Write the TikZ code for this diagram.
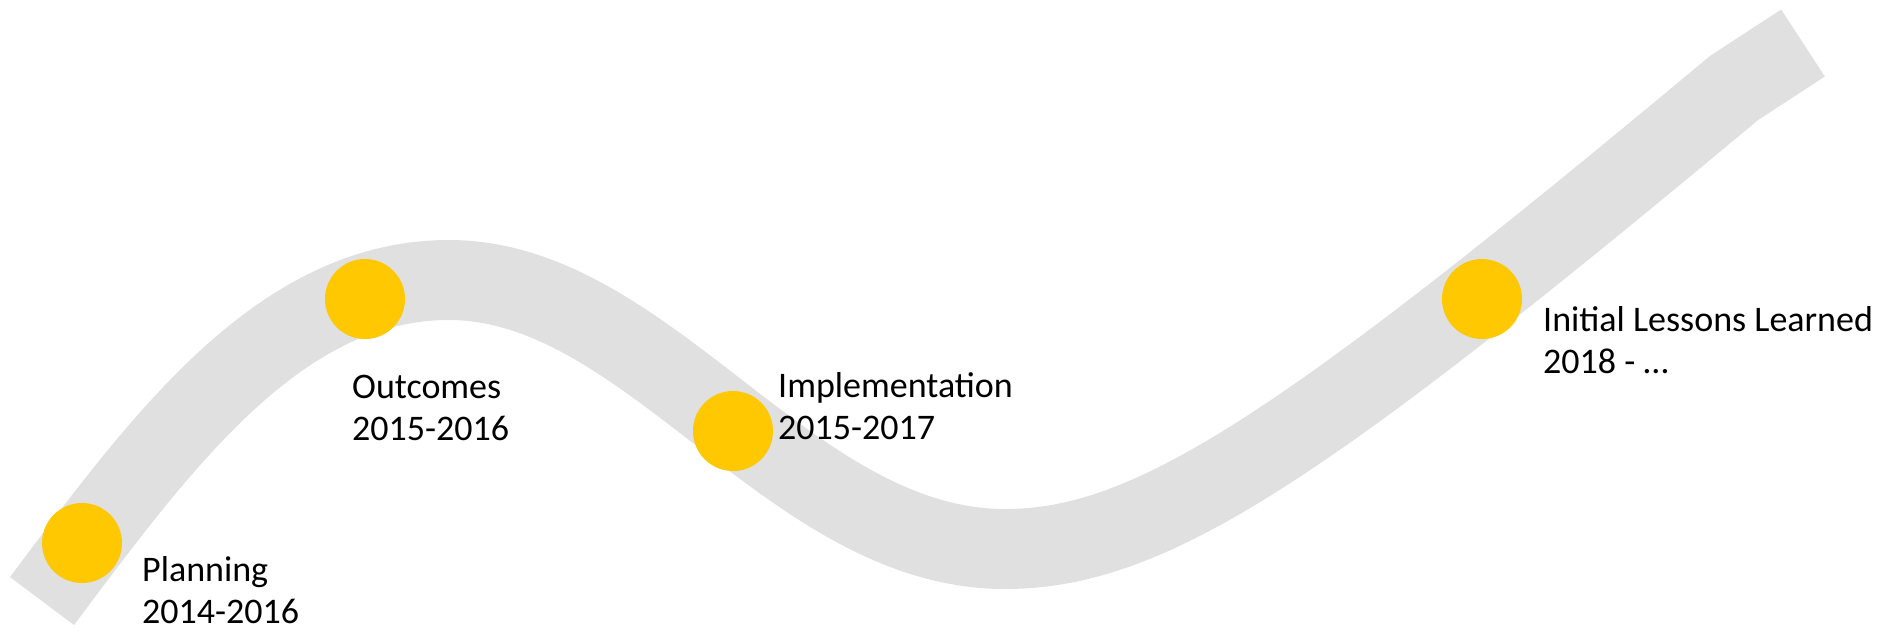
\documentclass[tikz,border=0pt]{standalone}
\usepackage{fontspec}
\setmainfont{Carlito}
\definecolor{roadgray}{HTML}{E0E0E0}
\definecolor{gold}{HTML}{FFC800}
\begin{document}
\begin{tikzpicture}[x=1pt,y=-1pt,
  road/.style={draw=roadgray,line width=80pt,line cap=butt,line join=miter},
  dot/.style={circle,fill=gold,minimum size=80pt,inner sep=0pt},
  lbl/.style={anchor=base west,align=left,inner sep=0pt,font=\fontsize{36}{42}\selectfont}]
\useasboundingbox (0,0) rectangle (1877,633);
\coordinate (s) at (42,601);
\coordinate (apex) at (449,280);
\coordinate (trough) at (1005,549);
\coordinate (kink) at (1734,88);
\coordinate (e) at (1803,43);
\draw[road] (s) .. controls (162,441) and (279,280) .. (apex)
  .. controls (649,280) and (790,549) .. (trough)
  .. controls (1150,549) and (1300,450) .. (kink) -- (e);
\node[dot] (d1) at (82,543) {};
\node[dot] (d2) at (365,299) {};
\node[dot] (d3) at (733,431) {};
\node[dot] (d4) at (1482,299) {};
\node[lbl] (t1) at (142,623) {Planning\\2014-2016};
\node[lbl] (t2) at (352,440) {Outcomes\\2015-2016};
\node[lbl] (t3) at (778,439) {Implementation\\2015-2017};
\node[lbl] (t4) at (1543,373) {Initial Lessons Learned\\2018 - …};
\end{tikzpicture}
\end{document}
